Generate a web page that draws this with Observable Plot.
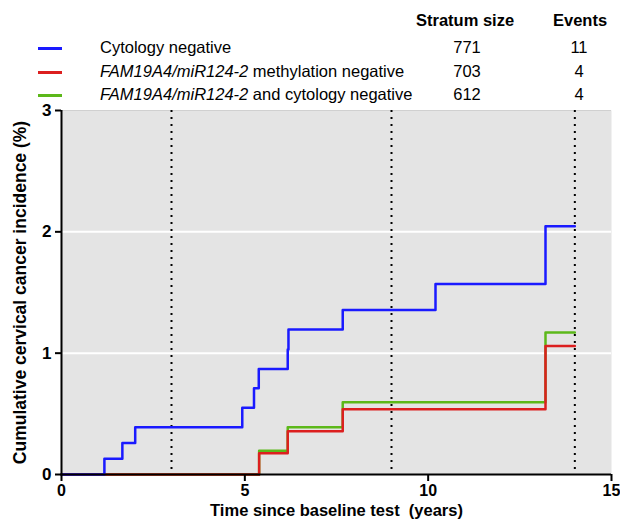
<!DOCTYPE html>
<html>
<head>
<meta charset="utf-8">
<script src="https://cdn.jsdelivr.net/npm/d3@7"></script>
<script src="https://cdn.jsdelivr.net/npm/@observablehq/plot@0.6"></script>
<style>
  body { margin: 0; background: #fff; font-family: "Liberation Sans", Arial, sans-serif; }
  #wrap { position: relative; width: 620px; height: 520px; overflow: hidden; }
  #legend { position: relative; width: 620px; height: 100px; }
  #legend div { position: absolute; white-space: nowrap; color: #000; }
  .hdr { font-weight: bold; font-size: 16.5px; }
  .lbl { font-size: 16.5px; }
  .num { font-size: 16.5px; text-align: center; width: 40px; }
  .sw { height: 2.5px; width: 24px; }
  #chart { position: absolute; left: 0; top: 100px; }
</style>
</head>
<body>
<div id="wrap">
  <div id="legend"></div>
  <div id="chart"></div>
</div>
<script>
// ---- data ----
const seriesNames = ["Cytology negative", "FAM19A4/miR124-2 methylation negative", "FAM19A4/miR124-2 and cytology negative"];
const seriesItalic = ["", "FAM19A4/miR124-2", "FAM19A4/miR124-2"];
const seriesRest = ["Cytology negative", " methylation negative", " and cytology negative"];
const stratumSize = [771, 703, 612];
const events = [11, 4, 4];
const colors = ["#1a1aff", "#dc1f1f", "#5cb81a"];

const blueT = [0, 1.17, 1.66, 2.01, 4.93, 5.25, 5.38, 6.17, 6.19, 7.67, 10.2, 13.2, 14];
const blueY = [0, 0.13, 0.26, 0.39, 0.55, 0.71, 0.87, 1.03, 1.195, 1.355, 1.57, 2.045, 2.045];
const redT = [0, 5.39, 6.17, 7.67, 13.2, 14];
const redY = [0, 0.176, 0.357, 0.538, 1.06, 1.06];
const greenT = [0, 5.39, 6.17, 7.67, 13.2, 14];
const greenY = [0, 0.195, 0.39, 0.595, 1.17, 1.17];

const dottedX = [3, 9, 14];
const gridY = [1, 2];
const xTicks = [0, 5, 10, 15];
const yTicks = [0, 1, 2, 3];

// ---- legend ----
const legend = document.getElementById("legend");
function add(cls, text, left, top, extra) {
  const d = document.createElement("div");
  d.className = cls;
  if (text !== null) d.textContent = text;
  d.style.left = left + "px";
  d.style.top = top + "px";
  if (extra) Object.assign(d.style, extra);
  legend.appendChild(d);
  return d;
}
add("hdr", "Stratum size", 416, 11);
add("hdr", "Events", 553, 11);
const rowTops = [38, 62, 85];
seriesNames.forEach((name, i) => {
  add("sw", null, 38, rowTops[i] + 9, { background: colors[i] });
  const l = add("lbl", null, 100, rowTops[i]);
  if (seriesItalic[i]) {
    const it = document.createElement("i");
    it.textContent = seriesItalic[i];
    l.appendChild(it);
  }
  l.appendChild(document.createTextNode(seriesRest[i]));
  add("num", String(stratumSize[i]), 447, rowTops[i]);
  add("num", String(events[i]), 559, rowTops[i]);
});

// ---- chart ----
const toRows = (T, Y, s) => T.map((t, i) => ({ t, y: Y[i], s }));
const rows = [
  ...toRows(greenT, greenY, 2),
  ...toRows(redT, redY, 1),
  ...toRows(blueT, blueY, 0)
];

const chart = Plot.plot({
  width: 620,
  height: 420,
  marginTop: 10,
  marginBottom: 46,
  marginLeft: 61,
  marginRight: 9,
  style: { fontFamily: "Liberation Sans, Arial, sans-serif", background: "transparent", overflow: "visible" },
  x: { domain: [0, 15] },
  y: { domain: [0, 3] },
  marks: [
    Plot.frame({ fill: "#e4e4e4", stroke: null }),
    Plot.ruleY(gridY, { stroke: "white", strokeWidth: 2 }),
    Plot.ruleY([3], { stroke: "#d0d0d0", strokeWidth: 1 }),
    Plot.ruleX(dottedX, { stroke: "#000", strokeWidth: 2, strokeDasharray: "2,5" }),
    Plot.line(rows.filter(d => d.s === 2), { x: "t", y: "y", stroke: colors[2], strokeWidth: 2.5, curve: "step-after" }),
    Plot.line(rows.filter(d => d.s === 1), { x: "t", y: "y", stroke: colors[1], strokeWidth: 2.5, curve: "step-after" }),
    Plot.line(rows.filter(d => d.s === 0), { x: "t", y: "y", stroke: colors[0], strokeWidth: 2.5, curve: "step-after" }),
    Plot.ruleX([0], { stroke: "#000", strokeWidth: 2 }),
    Plot.ruleY([0], { stroke: "#000", strokeWidth: 2 }),
    Plot.axisX({ ticks: xTicks, tickFormat: "d", tickSize: 7, tickPadding: 3, fontSize: 16, fontWeight: "bold", strokeWidth: 2,
      label: "Time since baseline test  (years)", labelAnchor: "center", labelArrow: "none", labelOffset: 41 }),
    Plot.axisY({ ticks: yTicks, tickFormat: "d", tickSize: 6, tickPadding: 4, fontSize: 17, fontWeight: "bold", strokeWidth: 2,
      label: "Cumulative cervical cancer incidence (%)", labelAnchor: "center", labelArrow: "none", labelOffset: 48 })
  ]
});
chart.querySelectorAll("[aria-label='x-axis label'] text").forEach(t => {
  t.style.fontSize = "16.5px"; t.style.fontWeight = "bold";
});
chart.querySelectorAll("[aria-label='y-axis label'] text").forEach(t => {
  t.style.fontSize = "17.5px"; t.style.fontWeight = "bold";
});
document.getElementById("chart").appendChild(chart);
</script>
</body>
</html>
